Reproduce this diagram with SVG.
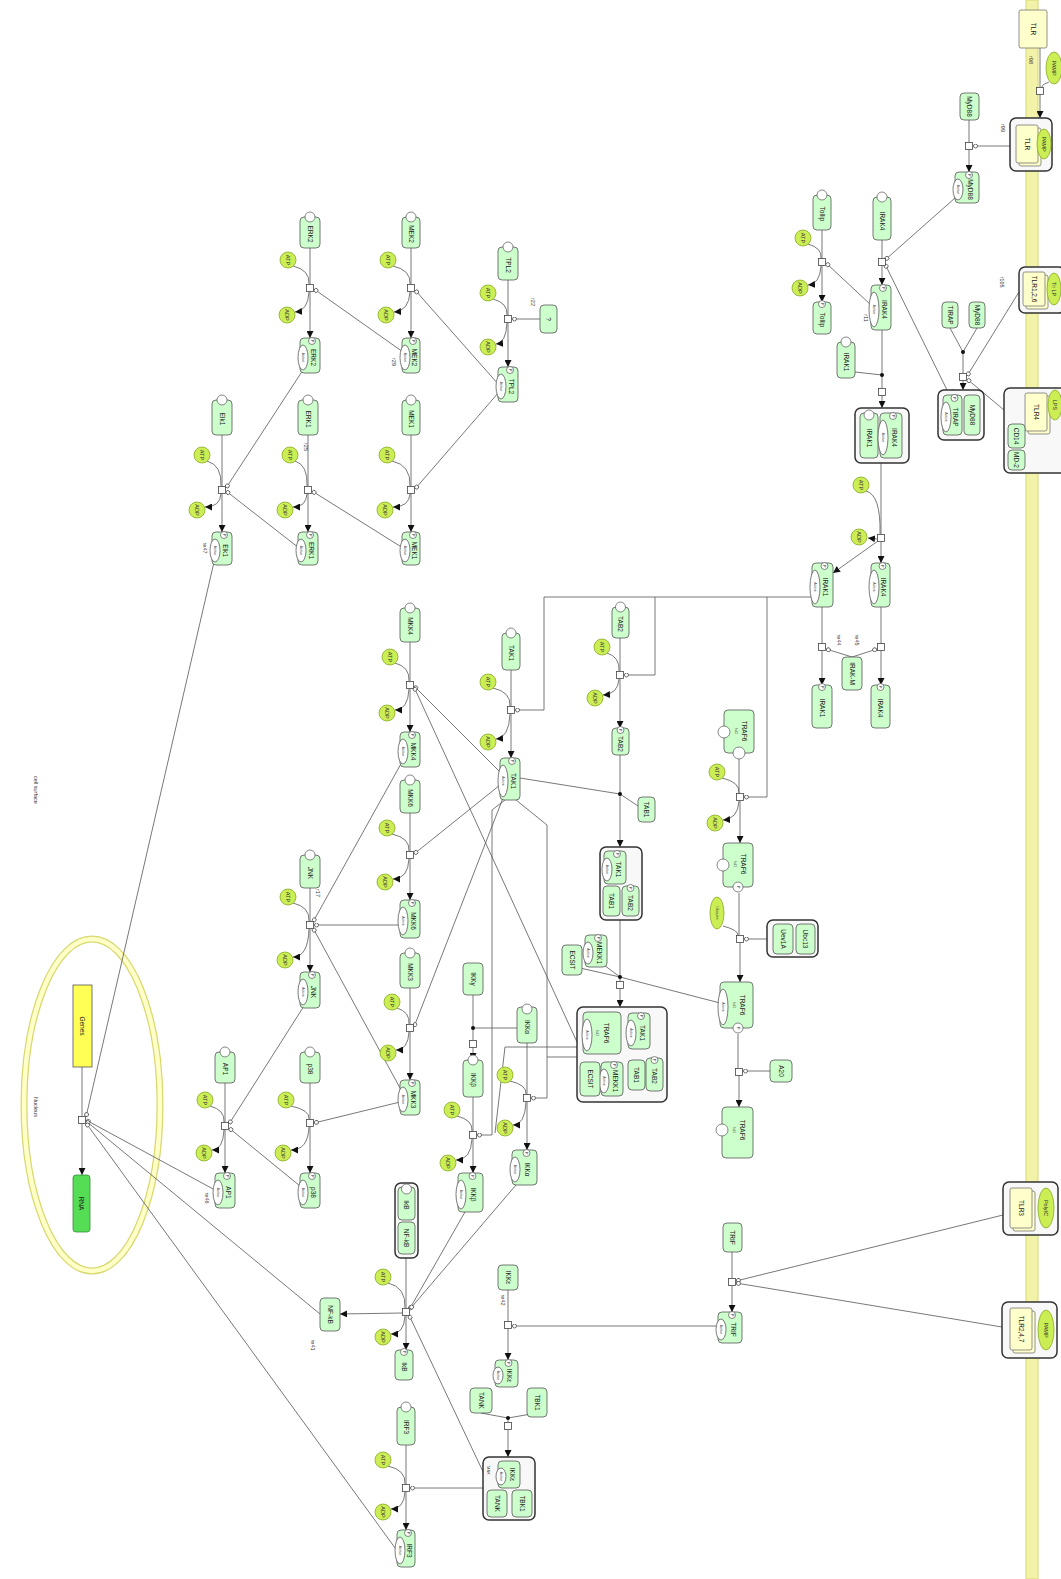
<svg xmlns="http://www.w3.org/2000/svg" width="1061" height="1579" viewBox="0 0 1061 1579">
<style>
text{font-family:"Liberation Sans",Arial,sans-serif}
.p{fill:#ccffcc;stroke:#555;stroke-width:.8}
.r{fill:#ffffcc;stroke:#777;stroke-width:.8}
.cx{fill:#f8f8f8;stroke:#333;stroke-width:1.5}
.s{fill:#fff;stroke:#555;stroke-width:.7}
.a{fill:#fff;stroke:#444;stroke-width:.7}
.m{fill:#ccee55;stroke:#88aa22;stroke-width:.8}
.pr{fill:#fff;stroke:#444;stroke-width:.8}
.dot{fill:#111}
.c{fill:none;stroke:#555;stroke-width:.8}
.ar{marker-end:url(#arr)}
.ca{marker-end:url(#cat)}
.t{font-size:6.5px;fill:#222;text-anchor:middle;dominant-baseline:central}
.tm{font-size:5.5px;fill:#333;text-anchor:middle;dominant-baseline:central}
.ta{font-size:3.5px;fill:#333;text-anchor:middle;dominant-baseline:central}
.tp{font-size:4px;fill:#333;text-anchor:middle;dominant-baseline:central}
.lb{font-size:5.5px;fill:#333;text-anchor:middle;dominant-baseline:central}
</style>
<defs>
<marker id="arr" viewBox="0 0 10 10" refX="10" refY="5" markerWidth="7" markerHeight="7" orient="auto" markerUnits="userSpaceOnUse"><path d="M0,0 L10,5 L0,10 z" fill="#111"/></marker>
<marker id="cat" viewBox="0 0 10 10" refX="10" refY="5" markerWidth="5" markerHeight="5" orient="auto" markerUnits="userSpaceOnUse"><circle cx="5" cy="5" r="4" fill="#fff" stroke="#444" stroke-width="1.5"/></marker>
</defs>
<rect width="1061" height="1579" fill="#fff"/>

<g id="compartments">
<rect x="1026" y="0" width="12" height="1579" fill="#f2f2a8" stroke="#d8d870" stroke-width="1"/>
<ellipse cx="92" cy="1105" rx="68" ry="166" fill="none" stroke="#d8d870" stroke-width="7"/>
<ellipse cx="92" cy="1105" rx="68" ry="166" fill="none" stroke="#ffffc8" stroke-width="4.5"/>
<text class="lb" transform="translate(36 1107) rotate(90)">Nucleus</text>
<text class="lb" transform="translate(36 790) rotate(90)">cell surface</text>
</g>

<g id="connectors">
<!-- r98 -->
<path class="c" d="M1040,48 V87.5"/><path class="c ar" d="M1040,94.5 V118"/><path class="c" d="M1049,82 Q1042,84 1041,88"/>
<rect class="pr" x="1036.5" y="87.5" width="7" height="7"/>
<!-- r99 -->
<path class="c" d="M969,120 V142.5"/><path class="c ar" d="M969,149.5 V172"/><path class="c ca" d="M1010,146 H973"/>
<rect class="pr" x="965.5" y="142.5" width="7" height="7"/>
<!-- IRAK4 -->
<path class="c" d="M882,240 V258.5"/><path class="c ar" d="M882,265.5 V285"/><path class="c ca" d="M955,198 L885,260"/><path class="c ca" d="M948,392 L885,264"/>
<rect class="pr" x="878.5" y="258.5" width="7" height="7"/>
<!-- Tollip -->
<path class="c" d="M822,230 V258.5"/><path class="c ar" d="M822,265.5 V302"/><path class="c" d="M808,244 Q822,248 821,258"/><path class="c ar" d="M821,266 Q820,284 808,285"/><path class="c ca" d="M871,305 L826,263"/>
<rect class="pr" x="818.5" y="258.5" width="7" height="7"/>
<!-- IRAK4:IRAK1 complex -->
<path class="c" d="M882,330 V388.5"/><path class="c" d="M855,372 L882,375"/><path class="c ar" d="M882,395.5 V408"/>
<circle class="dot" cx="882" cy="375" r="2"/>
<rect class="pr" x="878.5" y="388.5" width="7" height="7"/>
<!-- MyD88:TIRAP -->
<path class="c" d="M977,328 L963,352"/><path class="c" d="M950,328 L963,352"/><path class="c" d="M963,352 V373.5"/><path class="c ar" d="M963,380.5 V390"/>
<path class="c ca" d="M1019,292 L967,376"/><path class="c ca" d="M1004,410 L967,379"/>
<circle class="dot" cx="963" cy="352" r="2"/>
<rect class="pr" x="959.5" y="373.5" width="7" height="7"/>
<!-- IRAK phosphorylation -->
<path class="c" d="M881,463 V534.5"/><path class="c ar" d="M881,541.5 V563"/><path class="c ar" d="M878,541 L833,573"/>
<path class="c" d="M866,491 Q881,495 880,534"/><path class="c ar" d="M877,539 L868,538"/>
<rect class="pr" x="877.5" y="534.5" width="7" height="7"/>
<!-- IRAK-M -->
<path class="c" d="M881,607 V643.5"/><path class="c ar" d="M881,650.5 V685"/><path class="c" d="M822,607 V643.5"/><path class="c ar" d="M822,650.5 V685"/>
<path class="c ca" d="M852,657 L826,649"/><path class="c ca" d="M852,657 L877,649"/>
<rect class="pr" x="877.5" y="643.5" width="7" height="7"/>
<rect class="pr" x="818.5" y="643.5" width="7" height="7"/>
<!-- IRAK1 catalysis -->
<path class="c ca" d="M813,597 H544 V710 H515"/><path class="c ca" d="M655,597 V675 H624"/><path class="c ca" d="M767,597 V797 H744"/>
<!-- TRAF6 -->
<path class="c" d="M739,759 V793.5"/><path class="c ar" d="M740,800.5 V843"/><path class="c" d="M722,778 Q740,782 739,793"/><path class="c ar" d="M739,801 Q738,819 723,820"/>
<rect class="pr" x="736.5" y="793.5" width="7" height="7"/>
<path class="c" d="M739,893 V935.5"/><path class="c ar" d="M740,942.5 V982"/><path class="c" d="M723,926 Q738,930 738,935"/><path class="c ca" d="M767,939 H744"/>
<rect class="pr" x="736.5" y="935.5" width="7" height="7"/>
<path class="c" d="M738,1034 V1068.5"/><path class="c ar" d="M739,1075.5 V1107"/><path class="c ca" d="M770,1071 H743"/>
<rect class="pr" x="735.5" y="1068.5" width="7" height="7"/>
<!-- TAK1 -->
<path class="c" d="M511,670 V706.5"/><path class="c ar" d="M511,713.5 V758"/><path class="c" d="M493,688 Q511,692 510,706"/><path class="c ar" d="M510,714 Q509,738 496,739"/>
<rect class="pr" x="507.5" y="706.5" width="7" height="7"/>
<!-- TAB2 -->
<path class="c" d="M620,638 V671.5"/><path class="c ar" d="M620,678.5 V728"/><path class="c" d="M607,653 Q620,657 619,671"/><path class="c ar" d="M619,679 Q618,694 603,695"/>
<rect class="pr" x="616.5" y="671.5" width="7" height="7"/>
<!-- TAK1:TAB complex -->
<path class="c" d="M620,755 V794"/><path class="c" d="M520,778 L620,794"/><path class="c" d="M638,806 L620,794"/><path class="c ar" d="M620,794 V847"/>
<circle class="dot" cx="620" cy="794" r="2"/>
<path class="c" d="M620,920 V981.5"/><path class="c" d="M600,962 L620,977"/><path class="c" d="M580,968 L620,977"/><path class="c" d="M720,1003 L620,977"/><path class="c ar" d="M620,988.5 V1007"/>
<circle class="dot" cx="620" cy="977" r="2"/>
<rect class="pr" x="616.5" y="981.5" width="7" height="7"/>
<!-- TPL2 -->
<path class="c" d="M508,280 V315.5"/><path class="c ar" d="M508,322.5 V367"/><path class="c" d="M493,299 Q508,303 507,315"/><path class="c ar" d="M507,323 Q506,343 496,344"/><path class="c ca" d="M540,319 H512"/>
<rect class="pr" x="504.5" y="315.5" width="7" height="7"/>
<!-- ERK2 -->
<path class="c" d="M310,248 V284.5"/><path class="c ar" d="M310,291.5 V338"/><path class="c" d="M293,266 Q310,270 309,284"/><path class="c ar" d="M309,292 Q308,311 295,312"/><path class="c ca" d="M403,352 L314,289"/>
<rect class="pr" x="306.5" y="284.5" width="7" height="7"/>
<!-- MEK2 -->
<path class="c" d="M411,248 V284.5"/><path class="c ar" d="M411,291.5 V338"/><path class="c" d="M393,266 Q411,270 410,284"/><path class="c ar" d="M410,292 Q409,311 394,312"/><path class="c ca" d="M499,385 L415,290"/>
<rect class="pr" x="407.5" y="284.5" width="7" height="7"/>
<!-- Elk1 -->
<path class="c" d="M222,435 V486.5"/><path class="c ar" d="M222,493.5 V532"/><path class="c" d="M207,461 Q222,465 221,486"/><path class="c ar" d="M221,494 Q220,507 205,507"/><path class="c ca" d="M303,370 L226,488"/><path class="c ca" d="M299,548 L226,491"/>
<rect class="pr" x="218.5" y="486.5" width="7" height="7"/>
<!-- ERK1 -->
<path class="c" d="M308,435 V486.5"/><path class="c ar" d="M308,493.5 V532"/><path class="c" d="M295,461 Q308,465 307,486"/><path class="c ar" d="M307,494 Q306,507 293,507"/><path class="c ca" d="M403,548 L312,491"/>
<rect class="pr" x="304.5" y="486.5" width="7" height="7"/>
<!-- MEK1 -->
<path class="c" d="M411,435 V486.5"/><path class="c ar" d="M411,493.5 V532"/><path class="c" d="M392,461 Q411,465 410,486"/><path class="c ar" d="M410,494 Q409,507 393,507"/><path class="c ca" d="M499,392 L415,489"/>
<rect class="pr" x="407.5" y="486.5" width="7" height="7"/>
<!-- MKK4 -->
<path class="c" d="M410,642 V681.5"/><path class="c ar" d="M410,688.5 V732"/><path class="c" d="M395,663 Q410,667 409,681"/><path class="c ar" d="M409,689 Q408,710 395,710"/><path class="c ca" d="M500,772 L414,686"/><path class="c ca" d="M577,1042 L414,687"/>
<rect class="pr" x="406.5" y="681.5" width="7" height="7"/>
<!-- MKK6 -->
<path class="c" d="M410,813 V851.5"/><path class="c ar" d="M410,858.5 V900"/><path class="c" d="M392,834 Q410,838 409,851"/><path class="c ar" d="M409,859 Q408,879 393,879"/><path class="c ca" d="M500,785 L414,854"/>
<rect class="pr" x="406.5" y="851.5" width="7" height="7"/>
<!-- JNK -->
<path class="c" d="M310,888 V921.5"/><path class="c ar" d="M310,928.5 V972"/><path class="c" d="M293,903 Q310,907 309,921"/><path class="c ar" d="M309,929 Q308,957 293,957"/>
<path class="c ca" d="M402,762 L313,922"/><path class="c ca" d="M400,925 H314"/><path class="c ca" d="M400,1088 L313,928"/>
<rect class="pr" x="306.5" y="921.5" width="7" height="7"/>
<!-- MKK3 -->
<path class="c" d="M410,988 V1024.5"/><path class="c ar" d="M410,1031.5 V1080"/><path class="c" d="M397,1008 Q410,1012 409,1024"/><path class="c ar" d="M409,1032 Q408,1050 396,1050"/><path class="c ca" d="M503,798 L414,1027"/>
<rect class="pr" x="406.5" y="1024.5" width="7" height="7"/>
<!-- p38 -->
<path class="c" d="M310,1083 V1119.5"/><path class="c ar" d="M310,1126.5 V1173"/><path class="c" d="M291,1106 Q310,1110 309,1119"/><path class="c ar" d="M309,1127 Q308,1150 291,1150"/><path class="c ca" d="M400,1102 L314,1123"/>
<rect class="pr" x="306.5" y="1119.5" width="7" height="7"/>
<!-- AP1 -->
<path class="c" d="M225,1083 V1122.5"/><path class="c ar" d="M225,1129.5 V1173"/><path class="c" d="M210,1106 Q225,1110 224,1122"/><path class="c ar" d="M224,1130 Q223,1150 212,1150"/>
<path class="c ca" d="M304,1006 L229,1124"/><path class="c ca" d="M300,1186 L229,1128"/>
<rect class="pr" x="221.5" y="1122.5" width="7" height="7"/>
<!-- IKK -->
<path class="c" d="M473,995 V1040.5"/><path class="c" d="M473,1028 H517"/><path class="c ar" d="M473,1047.5 V1060"/>
<circle class="dot" cx="473" cy="1028" r="2"/>
<rect class="pr" x="469.5" y="1040.5" width="7" height="7"/>
<path class="c" d="M473,1097 V1131.5"/><path class="c ar" d="M473,1138.5 V1173"/><path class="c" d="M457,1116 Q473,1120 472,1131"/><path class="c ar" d="M472,1139 Q471,1160 456,1160"/>
<rect class="pr" x="469.5" y="1131.5" width="7" height="7"/>
<path class="c" d="M527,1043 V1094.5"/><path class="c ar" d="M527,1101.5 V1150"/><path class="c" d="M510,1081 Q527,1085 526,1094"/><path class="c ar" d="M526,1102 Q525,1125 513,1125"/>
<rect class="pr" x="523.5" y="1094.5" width="7" height="7"/>
<path class="c ca" d="M505,800 L492,810 V1135 H477"/><path class="c ca" d="M516,800 L547,825 V1098 H531"/>
<path class="c" d="M577,1047 H505 L495,1133"/><path class="c" d="M577,1057 H547"/>
<!-- IkB -->
<path class="c" d="M406,1258 V1308.5"/><path class="c ar" d="M406,1315.5 V1350"/><path class="c ar" d="M402.5,1313 L340,1314"/><path class="c" d="M388,1283 Q406,1287 405,1308"/><path class="c ar" d="M405,1316 Q404,1334 391,1334"/>
<path class="c ca" d="M465,1212 L409,1310"/><path class="c ca" d="M516,1185 L410,1309"/><path class="c ca" d="M486,1478 L409,1315"/>
<rect class="pr" x="402.5" y="1308.5" width="7" height="7"/>
<!-- IRF3 -->
<path class="c" d="M406,1445 V1484.5"/><path class="c ar" d="M406,1491.5 V1530"/><path class="c" d="M388,1466 Q406,1470 405,1484"/><path class="c ar" d="M405,1492 Q404,1509 391,1509"/><path class="c ca" d="M483,1488 H410"/>
<rect class="pr" x="402.5" y="1484.5" width="7" height="7"/>
<!-- IKKe -->
<path class="c" d="M508,1290 V1321.5"/><path class="c ar" d="M508,1328.5 V1360"/><path class="c ca" d="M718,1326 H512"/>
<rect class="pr" x="504.5" y="1321.5" width="7" height="7"/>
<!-- TANK complex -->
<path class="c" d="M481,1413 L508,1418"/><path class="c" d="M537,1413 L508,1418"/><path class="c" d="M508,1418 V1422.5"/><path class="c ar" d="M508,1429.5 V1457"/>
<circle class="dot" cx="508" cy="1418" r="2"/>
<rect class="pr" x="504.5" y="1422.5" width="7" height="7"/>
<!-- TRIF -->
<path class="c" d="M732,1252 V1278.5"/><path class="c ar" d="M732,1285.5 V1312"/><path class="c ca" d="M1003,1215 L736,1281"/><path class="c ca" d="M1002,1327 L736,1283"/>
<rect class="pr" x="728.5" y="1278.5" width="7" height="7"/>
<!-- transcription -->
<path class="c" d="M82,1067 V1116.5"/><path class="c ar" d="M82,1123.5 V1175"/>
<path class="c ca" d="M214,562 L86,1117"/><path class="c ca" d="M215,1190 L86,1120"/><path class="c ca" d="M320,1314 L86,1121"/><path class="c ca" d="M398,1552 L86,1123"/>
<rect class="pr" x="78.5" y="1116.5" width="7" height="7"/>
</g>

<g id="labels">
<text class="lb" transform="translate(1031 60) rotate(90)">r98</text>
<text class="lb" transform="translate(1003 128) rotate(90)">r99</text>
<text class="lb" transform="translate(1002 282) rotate(90)">r105</text>
<text class="lb" transform="translate(953 394) rotate(90)">r109</text>
<text class="lb" transform="translate(866 318) rotate(90)">r11</text>
<text class="lb" transform="translate(533 302) rotate(90)">r22</text>
<text class="lb" transform="translate(306 447) rotate(90)">r25</text>
<text class="lb" transform="translate(394 362) rotate(90)">r29</text>
<text class="lb" transform="translate(318 893) rotate(90)">r17</text>
<text class="lb" transform="translate(313 1345) rotate(90)">re41</text>
<text class="lb" transform="translate(503 1300) rotate(90)">re42</text>
<text class="lb" transform="translate(839 640) rotate(90)">re44</text>
<text class="lb" transform="translate(857 640) rotate(90)">re45</text>
<text class="lb" transform="translate(207 1198) rotate(90)">re46</text>
<text class="lb" transform="translate(205 548) rotate(90)">re47</text>
</g>

<g id="TLR"><rect class="r" x="1019" y="10" width="28" height="38" rx="2"/><text class="t" transform="translate(1033 29) rotate(90)">TLR</text></g>
<g id="PAMP"><ellipse class="m" cx="1054" cy="68" rx="8" ry="16"/><text class="tm" transform="translate(1054 68) rotate(90)">PAMP</text></g>
<g id="cTLR_PAMP"><rect class="cx" x="1010" y="118" width="42" height="53" rx="6"/><rect class="r" x="1019" y="128" width="22" height="38" rx="2"/><rect class="r" x="1016" y="125" width="22" height="38" rx="2"/><text class="t" transform="translate(1027 144) rotate(90)">TLR</text><ellipse class="m" cx="1044" cy="144" rx="7" ry="15"/><text class="tm" transform="translate(1044 144) rotate(90)">PAMP</text></g>
<g id="MyD88_1"><rect class="p" x="960" y="93" width="19" height="27" rx="4"/><text class="t" transform="translate(969.5 106.5) rotate(90)">MyD88</text></g>
<g id="MyD88_act"><rect class="p" x="955" y="172" width="24" height="31" rx="4"/><ellipse class="a" cx="958" cy="189.5" rx="5" ry="10.5"/><text class="ta" transform="translate(958 189.5) rotate(90)">Active</text><circle class="s" cx="969" cy="175" r="3.5"/><text class="tp" transform="translate(969 175) rotate(90)">P</text><text class="t" transform="translate(970 189.5) rotate(90)">MyD88</text></g>
<g id="IRAK4_1"><rect class="p" x="873" y="197" width="18" height="43" rx="4"/><circle class="s" cx="882" cy="197" r="5"/><text class="t" transform="translate(882 221) rotate(90)">IRAK4</text></g>
<g id="IRAK4_act1"><rect class="p" x="871" y="285" width="20" height="45" rx="4"/><ellipse class="a" cx="874" cy="309.5" rx="5" ry="17.5"/><text class="ta" transform="translate(874 309.5) rotate(90)">Active</text><circle class="s" cx="883" cy="288" r="3.5"/><text class="tp" transform="translate(883 288) rotate(90)">P</text><text class="t" transform="translate(884 309.5) rotate(90)">IRAK4</text></g>
<g id="Tollip"><rect class="p" x="813" y="195" width="18" height="35" rx="4"/><circle class="s" cx="822" cy="195" r="5"/><text class="t" transform="translate(822 214) rotate(90)">Tollip</text></g>
<g id="Tollip_P"><rect class="p" x="813" y="302" width="18" height="32" rx="4"/><circle class="s" cx="822" cy="304" r="3.5"/><text class="tp" transform="translate(822 304) rotate(90)">P</text><text class="t" transform="translate(822 320) rotate(90)">Tollip</text></g>
<g id="IRAK1_1"><rect class="p" x="837" y="342" width="18" height="36" rx="4"/><circle class="s" cx="846" cy="342" r="5"/><text class="t" transform="translate(846 362) rotate(90)">IRAK1</text></g>
<g id="MyD88_2"><rect class="p" x="969" y="302" width="16" height="26" rx="4"/><text class="t" transform="translate(977 315) rotate(90)">MyD88</text></g>
<g id="TIRAP"><rect class="p" x="942" y="302" width="16" height="26" rx="4"/><text class="t" transform="translate(950 315) rotate(90)">TIRAP</text></g>
<g id="cTLR126"><rect class="cx" x="1019" y="267" width="46" height="46" rx="6"/><rect class="r" x="1026" y="275" width="22" height="34" rx="2"/><rect class="r" x="1023" y="272" width="22" height="34" rx="2"/><text class="t" transform="translate(1034 289) rotate(90)">TLR1,2,6</text><ellipse class="m" cx="1054" cy="289" rx="7" ry="16"/><text class="tm" transform="translate(1054 289) rotate(90)">Tri LP</text></g>
<g id="cMyD88_TIRAP"><rect class="cx" x="938" y="390" width="46" height="50" rx="6"/><rect class="p" x="943" y="395" width="19" height="40" rx="4"/><ellipse class="a" cx="946" cy="417" rx="5" ry="15"/><text class="ta" transform="translate(946 417) rotate(90)">Active</text><circle class="s" cx="954.5" cy="398" r="3.5"/><text class="tp" transform="translate(954.5 398) rotate(90)">P</text><text class="t" transform="translate(955.5 417) rotate(90)">TIRAP</text><rect class="p" x="964" y="395" width="16" height="40" rx="4"/><text class="t" transform="translate(972 415) rotate(90)">MyD88</text></g>
<g id="cTLR4"><rect class="cx" x="1004" y="388" width="62" height="85" rx="6"/><rect class="r" x="1028" y="396" width="22" height="38" rx="2"/><rect class="r" x="1025" y="393" width="22" height="38" rx="2"/><text class="t" transform="translate(1036 412) rotate(90)">TLR4</text><ellipse class="m" cx="1055" cy="405" rx="7" ry="15"/><text class="tm" transform="translate(1055 405) rotate(90)">LPS</text><rect class="p" x="1008" y="424" width="17" height="24" rx="4"/><text class="t" transform="translate(1016.5 436) rotate(90)">CD14</text><rect class="p" x="1008" y="450" width="17" height="20" rx="4"/><text class="t" transform="translate(1016.5 460) rotate(90)">MD-2</text></g>
<g id="cIRAK"><rect class="cx" x="855" y="408" width="54" height="55" rx="6"/><rect class="p" x="860" y="413" width="18" height="45" rx="4"/><circle class="s" cx="869" cy="415" r="5"/><text class="t" transform="translate(869 438) rotate(90)">IRAK1</text><rect class="p" x="880" y="413" width="22" height="45" rx="4"/><ellipse class="a" cx="883" cy="437.5" rx="5" ry="17.5"/><text class="ta" transform="translate(883 437.5) rotate(90)">Active</text><circle class="s" cx="893" cy="416" r="3.5"/><text class="tp" transform="translate(893 416) rotate(90)">P</text><text class="t" transform="translate(894 437.5) rotate(90)">IRAK4</text></g>
<g id="IRAK4_act2"><rect class="p" x="871" y="563" width="19" height="44" rx="4"/><ellipse class="a" cx="874" cy="587" rx="5" ry="17"/><text class="ta" transform="translate(874 587) rotate(90)">Active</text><circle class="s" cx="882.5" cy="566" r="3.5"/><text class="tp" transform="translate(882.5 566) rotate(90)">P</text><text class="t" transform="translate(883.5 587) rotate(90)">IRAK4</text></g>
<g id="IRAK1_act"><rect class="p" x="812" y="563" width="21" height="44" rx="4"/><ellipse class="a" cx="815" cy="587" rx="5" ry="17"/><text class="ta" transform="translate(815 587) rotate(90)">Active</text><circle class="s" cx="824.5" cy="566" r="3.5"/><text class="tp" transform="translate(824.5 566) rotate(90)">P</text><text class="t" transform="translate(825.5 587) rotate(90)">IRAK1</text></g>
<g id="IRAK4_2"><rect class="p" x="871" y="685" width="19" height="43" rx="4"/><circle class="s" cx="880.5" cy="687" r="3.5"/><text class="tp" transform="translate(880.5 687) rotate(90)">P</text><text class="t" transform="translate(880.5 708) rotate(90)">IRAK4</text></g>
<g id="IRAK1_2"><rect class="p" x="812" y="685" width="20" height="43" rx="4"/><circle class="s" cx="822" cy="687" r="3.5"/><text class="tp" transform="translate(822 687) rotate(90)">P</text><text class="t" transform="translate(822 708) rotate(90)">IRAK1</text></g>
<g id="IRAKM"><rect class="p" x="842" y="657" width="20" height="33" rx="4"/><text class="t" transform="translate(852 673.5) rotate(90)">IRAK-M</text></g>

<g id="TRAF6_1"><rect class="p" x="724" y="710" width="30" height="43" rx="4"/><circle class="s" cx="724" cy="732" r="6"/><circle class="s" cx="739" cy="753" r="6"/><text class="t" transform="translate(744 731) rotate(90)">TRAF6</text><text class="ta" transform="translate(736 731) rotate(90)">hd1</text></g>
<g id="TRAF6_2"><rect class="p" x="723" y="843" width="30" height="44" rx="4"/><circle class="s" cx="723" cy="865" r="6"/><circle class="s" cx="738" cy="887" r="5"/><text class="tp" transform="translate(738 887) rotate(90)">P</text><text class="t" transform="translate(743 864) rotate(90)">TRAF6</text><text class="ta" transform="translate(735 864) rotate(90)">hd1</text></g>
<g id="Ubiquitin"><ellipse class="m" cx="717" cy="913" rx="7" ry="16"/><text class="ta" transform="translate(717 913) rotate(90)">Ubiquitin</text></g>
<g id="cUbc"><rect class="cx" x="767" y="920" width="51" height="37" rx="6"/><rect class="p" x="773" y="924" width="20" height="30" rx="4"/><text class="t" transform="translate(783 939) rotate(90)">Uev1A</text><rect class="p" x="796" y="924" width="19" height="30" rx="4"/><text class="t" transform="translate(805.5 939) rotate(90)">Ubc13</text></g>
<g id="TRAF6_act"><rect class="p" x="720" y="982" width="33" height="46" rx="4"/><ellipse class="a" cx="723" cy="1007" rx="5" ry="18"/><text class="ta" transform="translate(723 1007) rotate(90)">Active</text><circle class="s" cx="738" cy="1028" r="5"/><text class="tp" transform="translate(738 1028) rotate(90)">P</text><text class="t" transform="translate(742 1005) rotate(90)">TRAF6</text><text class="ta" transform="translate(734 1005) rotate(90)">hd1</text></g>
<g id="A20"><rect class="p" x="770" y="1060" width="22" height="22" rx="4"/><text class="t" transform="translate(781 1071) rotate(90)">A20</text></g>
<g id="TRAF6_3"><rect class="p" x="722" y="1107" width="31" height="51" rx="4"/><circle class="s" cx="722" cy="1130" r="6"/><text class="t" transform="translate(742 1130) rotate(90)">TRAF6</text><text class="ta" transform="translate(734 1130) rotate(90)">hd1</text></g>

<g id="TAK1"><rect class="p" x="502" y="633" width="18" height="37" rx="4"/><circle class="s" cx="511" cy="633" r="5"/><text class="t" transform="translate(511 653) rotate(90)">TAK1</text></g>
<g id="TAK1_act"><rect class="p" x="500" y="758" width="20" height="42" rx="4"/><ellipse class="a" cx="503" cy="781" rx="5" ry="16"/><text class="ta" transform="translate(503 781) rotate(90)">Active</text><circle class="s" cx="512" cy="761" r="3.5"/><text class="tp" transform="translate(512 761) rotate(90)">P</text><text class="t" transform="translate(513 781) rotate(90)">TAK1</text></g>
<g id="TAB2"><rect class="p" x="612" y="607" width="17" height="31" rx="4"/><circle class="s" cx="620.5" cy="607" r="5"/><text class="t" transform="translate(620.5 624) rotate(90)">TAB2</text></g>
<g id="TAB2_P"><rect class="p" x="612" y="728" width="17" height="27" rx="4"/><circle class="s" cx="620.5" cy="730" r="3.5"/><text class="tp" transform="translate(620.5 730) rotate(90)">P</text><text class="t" transform="translate(620.5 744) rotate(90)">TAB2</text></g>
<g id="TAB1"><rect class="p" x="638" y="797" width="17" height="25" rx="4"/><text class="t" transform="translate(646.5 809.5) rotate(90)">TAB1</text></g>
<g id="cTAK1TAB"><rect class="cx" x="600" y="847" width="42" height="73" rx="6"/><rect class="p" x="604" y="851" width="22" height="33" rx="4"/><ellipse class="a" cx="607" cy="869.5" rx="5" ry="11.5"/><text class="ta" transform="translate(607 869.5) rotate(90)">Active</text><circle class="s" cx="617" cy="854" r="3.5"/><text class="tp" transform="translate(617 854) rotate(90)">P</text><text class="t" transform="translate(618 869.5) rotate(90)">TAK1</text><rect class="p" x="603" y="886" width="17" height="30" rx="4"/><text class="t" transform="translate(611.5 901) rotate(90)">TAB1</text><rect class="p" x="622" y="886" width="17" height="30" rx="4"/><circle class="s" cx="630.5" cy="888" r="3.5"/><text class="tp" transform="translate(630.5 888) rotate(90)">P</text><text class="t" transform="translate(630.5 903) rotate(90)">TAB2</text></g>
<g id="MEKK1_act"><rect class="p" x="585" y="935" width="22" height="32" rx="4"/><ellipse class="a" cx="588" cy="953" rx="5" ry="11"/><text class="ta" transform="translate(588 953) rotate(90)">Active</text><circle class="s" cx="598" cy="938" r="3.5"/><text class="tp" transform="translate(598 938) rotate(90)">P</text><text class="t" transform="translate(599 953) rotate(90)">MEKK1</text></g>
<g id="ECSIT"><rect class="p" x="562" y="945" width="20" height="30" rx="4"/><text class="t" transform="translate(572 960) rotate(90)">ECSIT</text></g>
<g id="cBig"><rect class="cx" x="577" y="1007" width="90" height="95" rx="6"/>
<rect class="p" x="583" y="1012" width="38" height="42" rx="4"/><ellipse class="a" cx="587" cy="1035" rx="5" ry="16"/><text class="ta" transform="translate(587 1035) rotate(90)">Active</text><text class="t" transform="translate(606 1033) rotate(90)">TRAF6</text><text class="ta" transform="translate(597 1033) rotate(90)">hd1</text>
<rect class="p" x="628" y="1013" width="22" height="36" rx="4"/><ellipse class="a" cx="631" cy="1033" rx="5" ry="13"/><text class="ta" transform="translate(631 1033) rotate(90)">Active</text><circle class="s" cx="641" cy="1016" r="3.5"/><text class="tp" transform="translate(641 1016) rotate(90)">P</text><text class="t" transform="translate(642 1033) rotate(90)">TAK1</text>
<rect class="p" x="628" y="1060" width="17" height="30" rx="4"/><text class="t" transform="translate(636.5 1075) rotate(90)">TAB1</text>
<rect class="p" x="646" y="1058" width="17" height="33" rx="4"/><circle class="s" cx="654.5" cy="1060" r="3.5"/><text class="tp" transform="translate(654.5 1060) rotate(90)">P</text><text class="t" transform="translate(654.5 1076) rotate(90)">TAB2</text>
<rect class="p" x="601" y="1062" width="22" height="34" rx="4"/><ellipse class="a" cx="604" cy="1081" rx="5" ry="12"/><text class="ta" transform="translate(604 1081) rotate(90)">Active</text><circle class="s" cx="614" cy="1065" r="3.5"/><text class="tp" transform="translate(614 1065) rotate(90)">P</text><text class="t" transform="translate(615 1081) rotate(90)">MEKK1</text>
<rect class="p" x="580" y="1062" width="20" height="34" rx="4"/><text class="t" transform="translate(590 1079) rotate(90)">ECSIT</text></g>

<g id="TPL2"><rect class="p" x="498" y="247" width="20" height="33" rx="4"/><circle class="s" cx="508" cy="247" r="5"/><text class="t" transform="translate(508 265) rotate(90)">TPL2</text></g>
<g id="TPL2_act"><rect class="p" x="498" y="367" width="20" height="35" rx="4"/><ellipse class="a" cx="501" cy="386.5" rx="5" ry="12.5"/><text class="ta" transform="translate(501 386.5) rotate(90)">Active</text><circle class="s" cx="510" cy="370" r="3.5"/><text class="tp" transform="translate(510 370) rotate(90)">P</text><text class="t" transform="translate(511 386.5) rotate(90)">TPL2</text></g>
<g id="Q"><rect class="p" x="540" y="305" width="17" height="28" rx="4"/><text class="t" transform="translate(548.5 319) rotate(90)">?</text></g>
<g id="ERK2"><rect class="p" x="300" y="217" width="20" height="31" rx="4"/><circle class="s" cx="310" cy="217" r="5"/><text class="t" transform="translate(310 234) rotate(90)">ERK2</text></g>
<g id="ERK2_act"><rect class="p" x="300" y="338" width="20" height="35" rx="4"/><ellipse class="a" cx="303" cy="357.5" rx="5" ry="12.5"/><text class="ta" transform="translate(303 357.5) rotate(90)">Active</text><circle class="s" cx="312" cy="341" r="3.5"/><text class="tp" transform="translate(312 341) rotate(90)">P</text><text class="t" transform="translate(313 357.5) rotate(90)">ERK2</text></g>
<g id="MEK2"><rect class="p" x="402" y="217" width="18" height="31" rx="4"/><circle class="s" cx="411" cy="217" r="5"/><text class="t" transform="translate(411 234) rotate(90)">MEK2</text></g>
<g id="MEK2_act"><rect class="p" x="402" y="338" width="18" height="35" rx="4"/><ellipse class="a" cx="405" cy="357.5" rx="5" ry="12.5"/><text class="ta" transform="translate(405 357.5) rotate(90)">Active</text><circle class="s" cx="413" cy="341" r="3.5"/><text class="tp" transform="translate(413 341) rotate(90)">P</text><text class="t" transform="translate(414 357.5) rotate(90)">MEK2</text></g>
<g id="Elk1"><rect class="p" x="212" y="400" width="20" height="35" rx="4"/><circle class="s" cx="222" cy="400" r="5"/><text class="t" transform="translate(222 419) rotate(90)">Elk1</text></g>
<g id="Elk1_act"><rect class="p" x="212" y="532" width="20" height="33" rx="4"/><ellipse class="a" cx="215" cy="550.5" rx="5" ry="11.5"/><text class="ta" transform="translate(215 550.5) rotate(90)">Active</text><circle class="s" cx="224" cy="535" r="3.5"/><text class="tp" transform="translate(224 535) rotate(90)">P</text><text class="t" transform="translate(225 550.5) rotate(90)">Elk1</text></g>
<g id="ERK1"><rect class="p" x="298" y="400" width="20" height="35" rx="4"/><circle class="s" cx="308" cy="400" r="5"/><text class="t" transform="translate(308 419) rotate(90)">ERK1</text></g>
<g id="ERK1_act"><rect class="p" x="298" y="532" width="20" height="33" rx="4"/><ellipse class="a" cx="301" cy="550.5" rx="5" ry="11.5"/><text class="ta" transform="translate(301 550.5) rotate(90)">Active</text><circle class="s" cx="310" cy="535" r="3.5"/><text class="tp" transform="translate(310 535) rotate(90)">P</text><text class="t" transform="translate(311 550.5) rotate(90)">ERK1</text></g>
<g id="MEK1"><rect class="p" x="402" y="400" width="18" height="35" rx="4"/><circle class="s" cx="411" cy="400" r="5"/><text class="t" transform="translate(411 419) rotate(90)">MEK1</text></g>
<g id="MEK1_act"><rect class="p" x="402" y="532" width="18" height="33" rx="4"/><ellipse class="a" cx="405" cy="550.5" rx="5" ry="11.5"/><text class="ta" transform="translate(405 550.5) rotate(90)">Active</text><circle class="s" cx="413" cy="535" r="3.5"/><text class="tp" transform="translate(413 535) rotate(90)">P</text><text class="t" transform="translate(414 550.5) rotate(90)">MEK1</text></g>
<g id="MKK4"><rect class="p" x="400" y="608" width="20" height="34" rx="4"/><circle class="s" cx="410" cy="608" r="5"/><text class="t" transform="translate(410 626) rotate(90)">MKK4</text></g>
<g id="MKK4_act"><rect class="p" x="400" y="732" width="20" height="35" rx="4"/><ellipse class="a" cx="403" cy="751.5" rx="5" ry="12.5"/><text class="ta" transform="translate(403 751.5) rotate(90)">Active</text><circle class="s" cx="412" cy="735" r="3.5"/><text class="tp" transform="translate(412 735) rotate(90)">P</text><text class="t" transform="translate(413 751.5) rotate(90)">MKK4</text></g>
<g id="MKK6"><rect class="p" x="400" y="780" width="20" height="33" rx="4"/><circle class="s" cx="410" cy="780" r="5"/><text class="t" transform="translate(410 798) rotate(90)">MKK6</text></g>
<g id="MKK6_act"><rect class="p" x="400" y="900" width="20" height="38" rx="4"/><ellipse class="a" cx="403" cy="921" rx="5" ry="14"/><text class="ta" transform="translate(403 921) rotate(90)">Active</text><circle class="s" cx="412" cy="903" r="3.5"/><text class="tp" transform="translate(412 903) rotate(90)">P</text><text class="t" transform="translate(413 921) rotate(90)">MKK6</text></g>
<g id="JNK"><rect class="p" x="300" y="855" width="20" height="33" rx="4"/><circle class="s" cx="310" cy="855" r="5"/><text class="t" transform="translate(310 873) rotate(90)">JNK</text></g>
<g id="JNK_act"><rect class="p" x="300" y="972" width="20" height="36" rx="4"/><ellipse class="a" cx="303" cy="992" rx="5" ry="13"/><text class="ta" transform="translate(303 992) rotate(90)">Active</text><circle class="s" cx="312" cy="975" r="3.5"/><text class="tp" transform="translate(312 975) rotate(90)">P</text><text class="t" transform="translate(313 992) rotate(90)">JNK</text></g>
<g id="MKK3"><rect class="p" x="400" y="953" width="20" height="35" rx="4"/><circle class="s" cx="410" cy="953" r="5"/><text class="t" transform="translate(410 972) rotate(90)">MKK3</text></g>
<g id="MKK3_act"><rect class="p" x="400" y="1080" width="20" height="35" rx="4"/><ellipse class="a" cx="403" cy="1099.5" rx="5" ry="12.5"/><text class="ta" transform="translate(403 1099.5) rotate(90)">Active</text><circle class="s" cx="412" cy="1083" r="3.5"/><text class="tp" transform="translate(412 1083) rotate(90)">P</text><text class="t" transform="translate(413 1099.5) rotate(90)">MKK3</text></g>
<g id="p38"><rect class="p" x="300" y="1052" width="20" height="31" rx="4"/><circle class="s" cx="310" cy="1052" r="5"/><text class="t" transform="translate(310 1069) rotate(90)">p38</text></g>
<g id="p38_act"><rect class="p" x="300" y="1173" width="20" height="35" rx="4"/><ellipse class="a" cx="303" cy="1192.5" rx="5" ry="12.5"/><text class="ta" transform="translate(303 1192.5) rotate(90)">Active</text><circle class="s" cx="312" cy="1176" r="3.5"/><text class="tp" transform="translate(312 1176) rotate(90)">P</text><text class="t" transform="translate(313 1192.5) rotate(90)">p38</text></g>
<g id="AP1"><rect class="p" x="215" y="1052" width="20" height="31" rx="4"/><circle class="s" cx="225" cy="1052" r="5"/><text class="t" transform="translate(225 1069) rotate(90)">AP1</text></g>
<g id="AP1_act"><rect class="p" x="215" y="1173" width="20" height="35" rx="4"/><ellipse class="a" cx="218" cy="1192.5" rx="5" ry="12.5"/><text class="ta" transform="translate(218 1192.5) rotate(90)">Active</text><circle class="s" cx="227" cy="1176" r="3.5"/><text class="tp" transform="translate(227 1176) rotate(90)">P</text><text class="t" transform="translate(228 1192.5) rotate(90)">AP1</text></g>

<g id="IKKg"><rect class="p" x="463" y="963" width="20" height="32" rx="4"/><text class="t" transform="translate(473 979) rotate(90)">IKKγ</text></g>
<g id="IKKb"><rect class="p" x="463" y="1060" width="20" height="37" rx="4"/><circle class="s" cx="473" cy="1060" r="5"/><text class="t" transform="translate(473 1080) rotate(90)">IKKβ</text></g>
<g id="IKKb_act"><rect class="p" x="458" y="1173" width="25" height="39" rx="4"/><ellipse class="a" cx="461" cy="1194.5" rx="5" ry="14.5"/><text class="ta" transform="translate(461 1194.5) rotate(90)">Active</text><circle class="s" cx="472.5" cy="1176" r="3.5"/><text class="tp" transform="translate(472.5 1176) rotate(90)">P</text><text class="t" transform="translate(473.5 1194.5) rotate(90)">IKKβ</text></g>
<g id="IKKa"><rect class="p" x="517" y="1007" width="20" height="36" rx="4"/><circle class="s" cx="527" cy="1009" r="5"/><text class="t" transform="translate(527 1027) rotate(90)">IKKα</text></g>
<g id="IKKa_act"><rect class="p" x="512" y="1150" width="25" height="35" rx="4"/><ellipse class="a" cx="515" cy="1169.5" rx="5" ry="12.5"/><text class="ta" transform="translate(515 1169.5) rotate(90)">Active</text><circle class="s" cx="526.5" cy="1153" r="3.5"/><text class="tp" transform="translate(526.5 1153) rotate(90)">P</text><text class="t" transform="translate(527.5 1169.5) rotate(90)">IKKα</text></g>

<g id="cIkB"><rect class="cx" x="395" y="1183" width="23" height="75" rx="6"/><rect class="p" x="398" y="1187" width="17" height="33" rx="4"/><circle class="s" cx="406.5" cy="1189" r="5"/><text class="t" transform="translate(406.5 1205) rotate(90)">IkB</text><rect class="p" x="398" y="1222" width="17" height="32" rx="4"/><text class="t" transform="translate(406.5 1238) rotate(90)">NF-kB</text></g>
<g id="IkB_P"><rect class="p" x="395" y="1350" width="18" height="30" rx="4"/><circle class="s" cx="404" cy="1352" r="3.5"/><text class="tp" transform="translate(404 1352) rotate(90)">P</text><text class="t" transform="translate(404 1367) rotate(90)">IkB</text></g>
<g id="NFkB"><rect class="p" x="320" y="1298" width="20" height="33" rx="4"/><text class="t" transform="translate(330 1314.5) rotate(90)">NF-kB</text></g>
<g id="IRF3"><rect class="p" x="397" y="1407" width="18" height="38" rx="4"/><circle class="s" cx="406" cy="1407" r="5"/><text class="t" transform="translate(406 1427) rotate(90)">IRF3</text></g>
<g id="IRF3_act"><rect class="p" x="397" y="1530" width="18" height="37" rx="4"/><ellipse class="a" cx="400" cy="1550.5" rx="5" ry="13.5"/><text class="ta" transform="translate(400 1550.5) rotate(90)">Active</text><circle class="s" cx="408" cy="1533" r="3.5"/><text class="tp" transform="translate(408 1533) rotate(90)">P</text><text class="t" transform="translate(409 1550.5) rotate(90)">IRF3</text></g>
<g id="IKKe"><rect class="p" x="498" y="1265" width="20" height="25" rx="4"/><text class="t" transform="translate(508 1277.5) rotate(90)">IKKε</text></g>
<g id="IKKe_act"><rect class="p" x="495" y="1360" width="23" height="27" rx="4"/><ellipse class="a" cx="498" cy="1375.5" rx="5" ry="8.5"/><text class="ta" transform="translate(498 1375.5) rotate(90)">Active</text><circle class="s" cx="508.5" cy="1363" r="3.5"/><text class="tp" transform="translate(508.5 1363) rotate(90)">P</text><text class="t" transform="translate(509.5 1375.5) rotate(90)">IKKε</text></g>
<g id="TANK"><rect class="p" x="470" y="1388" width="22" height="25" rx="4"/><text class="t" transform="translate(481 1400.5) rotate(90)">TANK</text></g>
<g id="TBK1"><rect class="p" x="527" y="1388" width="20" height="29" rx="4"/><text class="t" transform="translate(537 1402.5) rotate(90)">TBK1</text></g>
<g id="cTANK"><rect class="cx" x="483" y="1457" width="52" height="63" rx="6"/><rect class="p" x="498" y="1461" width="22" height="27" rx="4"/><ellipse class="a" cx="501" cy="1476.5" rx="5" ry="8.5"/><text class="ta" transform="translate(501 1476.5) rotate(90)">Active</text><text class="t" transform="translate(512 1474.5) rotate(90)">IKKε</text><rect class="p" x="487" y="1490" width="20" height="27" rx="4"/><text class="t" transform="translate(497 1503.5) rotate(90)">TANK</text><rect class="p" x="512" y="1490" width="20" height="27" rx="4"/><text class="t" transform="translate(522 1503.5) rotate(90)">TBK1</text><text class="ta" transform="translate(488 1470) rotate(90)">TANK</text></g>

<g id="TRIF"><rect class="p" x="723" y="1223" width="19" height="29" rx="4"/><text class="t" transform="translate(732.5 1237.5) rotate(90)">TRIF</text></g>
<g id="TRIF_act"><rect class="p" x="718" y="1312" width="24" height="31" rx="4"/><ellipse class="a" cx="721" cy="1329.5" rx="5" ry="10.5"/><text class="ta" transform="translate(721 1329.5) rotate(90)">Active</text><circle class="s" cx="732" cy="1315" r="3.5"/><text class="tp" transform="translate(732 1315) rotate(90)">P</text><text class="t" transform="translate(733 1329.5) rotate(90)">TRIF</text></g>
<g id="cTLR3"><rect class="cx" x="1003" y="1182" width="55" height="53" rx="6"/><rect class="r" x="1013" y="1191" width="22" height="40" rx="2"/><rect class="r" x="1010" y="1188" width="22" height="40" rx="2"/><text class="t" transform="translate(1021 1208) rotate(90)">TLR3</text><ellipse class="m" cx="1046" cy="1208" rx="8" ry="20"/><text class="tm" transform="translate(1046 1208) rotate(90)">PolyIC</text></g>
<g id="cTLR247"><rect class="cx" x="1002" y="1302" width="55" height="56" rx="6"/><rect class="r" x="1013" y="1311" width="22" height="42" rx="2"/><rect class="r" x="1010" y="1308" width="22" height="42" rx="2"/><text class="t" transform="translate(1021 1329) rotate(90)">TLR2,4,7</text><ellipse class="m" cx="1046" cy="1330" rx="8" ry="20"/><text class="tm" transform="translate(1046 1330) rotate(90)">PAMP</text></g>

<g id="Genes"><rect x="73" y="985" width="19" height="82" fill="#ffff55" stroke="#555" stroke-width=".8"/><text class="t" transform="translate(82.5 1026) rotate(90)">Genes</text></g>
<g id="RNA"><rect x="73" y="1175" width="17" height="57" rx="3" fill="#55dd55" stroke="#3a8a3a" stroke-width=".8"/><text class="t" transform="translate(81.5 1203.5) rotate(90)">RNA</text></g>

<g id="small_molecules">
<g id="atp1"><circle class="m" cx="803" cy="238" r="8"/><text class="tm" transform="translate(803 238) rotate(90)">ATP</text></g>
<g id="adp1"><circle class="m" cx="800" cy="288" r="8"/><text class="tm" transform="translate(800 288) rotate(90)">ADP</text></g>
<g id="atp2"><circle class="m" cx="861" cy="485" r="8"/><text class="tm" transform="translate(861 485) rotate(90)">ATP</text></g>
<g id="adp2"><circle class="m" cx="859" cy="537" r="8"/><text class="tm" transform="translate(859 537) rotate(90)">ADP</text></g>
<g id="atp3"><circle class="m" cx="717" cy="772" r="8"/><text class="tm" transform="translate(717 772) rotate(90)">ATP</text></g>
<g id="adp3"><circle class="m" cx="715" cy="823" r="8"/><text class="tm" transform="translate(715 823) rotate(90)">ADP</text></g>
<g id="atp4"><circle class="m" cx="488" cy="682" r="8"/><text class="tm" transform="translate(488 682) rotate(90)">ATP</text></g>
<g id="adp4"><circle class="m" cx="488" cy="742" r="8"/><text class="tm" transform="translate(488 742) rotate(90)">ADP</text></g>
<g id="atp5"><circle class="m" cx="602" cy="647" r="8"/><text class="tm" transform="translate(602 647) rotate(90)">ATP</text></g>
<g id="adp5"><circle class="m" cx="595" cy="698" r="8"/><text class="tm" transform="translate(595 698) rotate(90)">ADP</text></g>
<g id="atp6"><circle class="m" cx="488" cy="293" r="8"/><text class="tm" transform="translate(488 293) rotate(90)">ATP</text></g>
<g id="adp6"><circle class="m" cx="488" cy="347" r="8"/><text class="tm" transform="translate(488 347) rotate(90)">ADP</text></g>
<g id="atp7"><circle class="m" cx="288" cy="260" r="8"/><text class="tm" transform="translate(288 260) rotate(90)">ATP</text></g>
<g id="adp7"><circle class="m" cx="287" cy="315" r="8"/><text class="tm" transform="translate(287 315) rotate(90)">ADP</text></g>
<g id="atp8"><circle class="m" cx="388" cy="260" r="8"/><text class="tm" transform="translate(388 260) rotate(90)">ATP</text></g>
<g id="adp8"><circle class="m" cx="386" cy="315" r="8"/><text class="tm" transform="translate(386 315) rotate(90)">ADP</text></g>
<g id="atp9"><circle class="m" cx="202" cy="455" r="8"/><text class="tm" transform="translate(202 455) rotate(90)">ATP</text></g>
<g id="adp9"><circle class="m" cx="197" cy="510" r="8"/><text class="tm" transform="translate(197 510) rotate(90)">ADP</text></g>
<g id="atp10"><circle class="m" cx="290" cy="455" r="8"/><text class="tm" transform="translate(290 455) rotate(90)">ATP</text></g>
<g id="adp10"><circle class="m" cx="285" cy="510" r="8"/><text class="tm" transform="translate(285 510) rotate(90)">ADP</text></g>
<g id="atp11"><circle class="m" cx="387" cy="455" r="8"/><text class="tm" transform="translate(387 455) rotate(90)">ATP</text></g>
<g id="adp11"><circle class="m" cx="385" cy="510" r="8"/><text class="tm" transform="translate(385 510) rotate(90)">ADP</text></g>
<g id="atp12"><circle class="m" cx="390" cy="657" r="8"/><text class="tm" transform="translate(390 657) rotate(90)">ATP</text></g>
<g id="adp12"><circle class="m" cx="387" cy="713" r="8"/><text class="tm" transform="translate(387 713) rotate(90)">ADP</text></g>
<g id="atp13"><circle class="m" cx="387" cy="828" r="8"/><text class="tm" transform="translate(387 828) rotate(90)">ATP</text></g>
<g id="adp13"><circle class="m" cx="385" cy="882" r="8"/><text class="tm" transform="translate(385 882) rotate(90)">ADP</text></g>
<g id="atp14"><circle class="m" cx="288" cy="897" r="8"/><text class="tm" transform="translate(288 897) rotate(90)">ATP</text></g>
<g id="adp14"><circle class="m" cx="285" cy="960" r="8"/><text class="tm" transform="translate(285 960) rotate(90)">ADP</text></g>
<g id="atp15"><circle class="m" cx="392" cy="1002" r="8"/><text class="tm" transform="translate(392 1002) rotate(90)">ATP</text></g>
<g id="adp15"><circle class="m" cx="388" cy="1053" r="8"/><text class="tm" transform="translate(388 1053) rotate(90)">ADP</text></g>
<g id="atp16"><circle class="m" cx="286" cy="1100" r="8"/><text class="tm" transform="translate(286 1100) rotate(90)">ATP</text></g>
<g id="adp16"><circle class="m" cx="283" cy="1153" r="8"/><text class="tm" transform="translate(283 1153) rotate(90)">ADP</text></g>
<g id="atp17"><circle class="m" cx="205" cy="1100" r="8"/><text class="tm" transform="translate(205 1100) rotate(90)">ATP</text></g>
<g id="adp17"><circle class="m" cx="204" cy="1153" r="8"/><text class="tm" transform="translate(204 1153) rotate(90)">ADP</text></g>
<g id="atp18"><circle class="m" cx="452" cy="1110" r="8"/><text class="tm" transform="translate(452 1110) rotate(90)">ATP</text></g>
<g id="adp18"><circle class="m" cx="448" cy="1163" r="8"/><text class="tm" transform="translate(448 1163) rotate(90)">ADP</text></g>
<g id="atp19"><circle class="m" cx="505" cy="1075" r="8"/><text class="tm" transform="translate(505 1075) rotate(90)">ATP</text></g>
<g id="adp19"><circle class="m" cx="505" cy="1128" r="8"/><text class="tm" transform="translate(505 1128) rotate(90)">ADP</text></g>
<g id="atp20"><circle class="m" cx="383" cy="1277" r="8"/><text class="tm" transform="translate(383 1277) rotate(90)">ATP</text></g>
<g id="adp20"><circle class="m" cx="383" cy="1337" r="8"/><text class="tm" transform="translate(383 1337) rotate(90)">ADP</text></g>
<g id="atp21"><circle class="m" cx="383" cy="1460" r="8"/><text class="tm" transform="translate(383 1460) rotate(90)">ATP</text></g>
<g id="adp21"><circle class="m" cx="383" cy="1512" r="8"/><text class="tm" transform="translate(383 1512) rotate(90)">ADP</text></g>
</g>
</svg>
